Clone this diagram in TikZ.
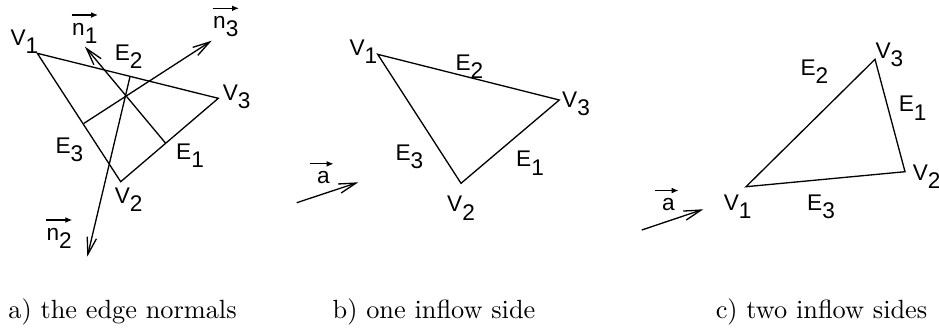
\documentclass[tikz,border=0pt]{standalone}
\usepackage{fontspec}
\usetikzlibrary{arrows.meta}
\newfontfamily\labfont{Liberation Sans}
\newcommand{\lbl}[2]{#1\raisebox{-3.3pt}{#2}}
\tikzset{
  edge/.style={line width=0.5pt, line join=miter},
  vecarrow/.style={line width=0.5pt, -{Straight Barb[length=6.5pt,width=3.6pt,line width=0.5pt]}},
  overarr/.style={line width=0.45pt, -{Latex[length=2.6pt,width=2.2pt]}},
  lab/.style={inner sep=0pt, anchor=base west, font=\labfont\fontsize{8.6}{10}\selectfont},
  captext/.style={inner sep=0pt, anchor=base, font=\fontsize{10}{12}\selectfont}
}
\begin{document}
\begin{tikzpicture}[x=0.38pt, y=-0.38pt]
\useasboundingbox (0,0) rectangle (939,334);
% ---------- panel a ----------
\coordinate (aV1) at (37.3,53.3);
\coordinate (aV3) at (218.3,98.3);
\coordinate (aV2) at (120.7,181.7);
\draw[edge] (aV1) -- (aV3) -- (aV2) -- cycle;
\coordinate (m1) at (165.7,143.3);
\coordinate (t1) at (85,46.7);
\coordinate (m3) at (84,123.3);
\coordinate (t3) at (211.7,40.7);
\coordinate (m2) at (130,76.7);
\coordinate (t2) at (87.3,256.7);
\draw[vecarrow] (m1) -- (t1);
\draw[vecarrow] (m3) -- (t3);
\draw[vecarrow] (m2) -- (t2);
\node[lab] (laV1) at (10,45) {\lbl{V}{1}};
\node[lab] (lan1) at (71.7,35) {\lbl{n}{1}};
\node[lab] (laE2) at (114.3,60) {\lbl{E}{2}};
\node[lab] (lan3) at (212.7,28.3) {\lbl{n}{3}};
\node[lab] (laV3) at (222.3,100) {\lbl{V}{3}};
\node[lab] (laE3) at (55,153.3) {\lbl{E}{3}};
\node[lab] (laE1) at (175.7,159.3) {\lbl{E}{1}};
\node[lab] (laV2) at (114.3,203.3) {\lbl{V}{2}};
\node[lab] (lan2) at (46,240) {\lbl{n}{2}};
\foreach \v in {lan1,lan2,lan3}
  \draw[overarr] ([yshift=7.6pt]\v.base west) -- ([yshift=7.6pt]\v.base east);
% ---------- panel b ----------
\coordinate (bV1) at (377.7,54.3);
\coordinate (bV3) at (559.3,100);
\coordinate (bV2) at (461,183.3);
\draw[edge] (bV1) -- (bV3) -- (bV2) -- cycle;
\coordinate (ba0) at (296.7,202.7);
\coordinate (ba1) at (358.3,182.3);
\draw[vecarrow] (ba0) -- (ba1);
\node[lab] (lbV1) at (349,55) {\lbl{V}{1}};
\node[lab] (lbE2) at (455,70) {\lbl{E}{2}};
\node[lab] (lbV3) at (561.7,107.3) {\lbl{V}{3}};
\node[lab] (lbE3) at (395,160) {\lbl{E}{3}};
\node[lab] (lbE1) at (515.7,166.7) {\lbl{E}{1}};
\node[lab] (lbV2) at (446.7,211.7) {\lbl{V}{2}};
\node[lab] (lba) at (316.7,183.3) {a};
% ---------- panel c ----------
\coordinate (cV1) at (746,186.7);
\coordinate (cV2) at (905,171.7);
\coordinate (cV3) at (875,59.3);
\draw[edge] (cV1) -- (cV2) -- (cV3) -- cycle;
\coordinate (ca0) at (641.7,230);
\coordinate (ca1) at (703.3,209.3);
\draw[vecarrow] (ca0) -- (ca1);
\node[lab] (lcV3) at (875,58.3) {\lbl{V}{3}};
\node[lab] (lcE2) at (800,75) {\lbl{E}{2}};
\node[lab] (lcE1) at (898.3,111.7) {\lbl{E}{1}};
\node[lab] (lcV2) at (912.3,180) {\lbl{V}{2}};
\node[lab] (lcV1) at (723.3,210) {\lbl{V}{1}};
\node[lab] (lcE3) at (806.7,210) {\lbl{E}{3}};
\node[lab] (lca) at (661.7,210) {a};
\foreach \v in {lba,lca}
  \draw[overarr] ([xshift=-2.4pt,yshift=7.4pt]\v.base west) -- ([xshift=1.2pt,yshift=7.4pt]\v.base east);
% ---------- captions ----------
\node[captext] (capa) at (122.5,318) {a) the edge normals};
\node[captext] (capb) at (434,318) {b) one inflow side};
\node[captext] (capc) at (821.5,318) {c) two inflow sides};
\end{tikzpicture}
\end{document}
